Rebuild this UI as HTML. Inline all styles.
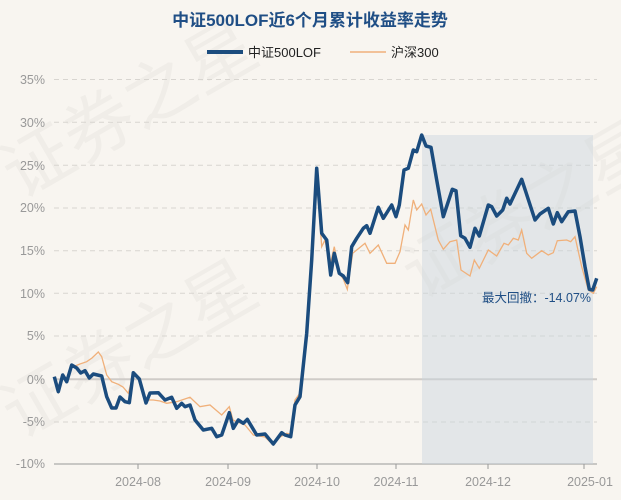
<!DOCTYPE html>
<html><head><meta charset="utf-8"><style>
body{margin:0;background:#f8f5f0;}
svg{display:block;font-family:"Liberation Sans","Noto Sans CJK SC",sans-serif;}
</style></head><body>
<svg width="621" height="500" viewBox="0 0 621 500" xmlns="http://www.w3.org/2000/svg">
<rect width="621" height="500" fill="#f8f5f0"/>
<g font-family="Noto Sans CJK SC,sans-serif" font-size="70" fill="#000" opacity="0.035">
<text x="20" y="200" transform="rotate(-30 20 200)">证券之星</text>
<text x="20" y="440" transform="rotate(-30 20 440)">证券之星</text>
<text x="420" y="300" transform="rotate(-30 420 300)">证券之星</text>
</g>
<text x="310" y="26" text-anchor="middle" font-size="17" font-weight="bold" fill="#1f4e85">中证500LOF近6个月累计收益率走势</text>
<line x1="207" y1="52" x2="243" y2="52" stroke="#1b4c7e" stroke-width="4"/>
<text x="248" y="57" font-size="13" fill="#222">中证500LOF</text>
<line x1="350" y1="52" x2="386" y2="52" stroke="#f0b07a" stroke-width="1.5"/>
<text x="391" y="57" font-size="13" fill="#222">沪深300</text>
<g stroke="#d8d5d0" stroke-dasharray="5,4" stroke-width="1">
<line x1="54" y1="79.5" x2="597" y2="79.5"/><line x1="54" y1="122.3" x2="597" y2="122.3"/>
<line x1="54" y1="165.3" x2="597" y2="165.3"/><line x1="54" y1="208" x2="597" y2="208"/>
<line x1="54" y1="250.7" x2="597" y2="250.7"/><line x1="54" y1="293.3" x2="597" y2="293.3"/>
<line x1="54" y1="336" x2="597" y2="336"/><line x1="54" y1="422" x2="597" y2="422"/>
</g>
<line x1="54" y1="379.3" x2="597" y2="379.3" stroke="#cfccc8" stroke-width="2"/>
<line x1="54" y1="464" x2="597" y2="464" stroke="#999" stroke-width="1"/>
<g font-size="12.5" fill="#999" text-anchor="end">
<text x="45" y="84">35%</text><text x="45" y="127">30%</text><text x="45" y="170">25%</text>
<text x="45" y="212">20%</text><text x="45" y="255">15%</text><text x="45" y="298">10%</text>
<text x="45" y="340">5%</text><text x="45" y="384">0%</text><text x="45" y="426">-5%</text><text x="45" y="468">-10%</text>
</g>
<g stroke="#999"><line x1="138" y1="464" x2="138" y2="469"/><line x1="228" y1="464" x2="228" y2="469"/><line x1="317" y1="464" x2="317" y2="469"/><line x1="396" y1="464" x2="396" y2="469"/><line x1="488" y1="464" x2="488" y2="469"/><line x1="584" y1="464" x2="584" y2="469"/></g>
<g font-size="12.5" fill="#999" text-anchor="middle">
<text x="138" y="486">2024-08</text><text x="228" y="486">2024-09</text><text x="317" y="486">2024-10</text>
<text x="396" y="486">2024-11</text><text x="488" y="486">2024-12</text><text x="590" y="486">2025-01</text>
</g>
<rect x="422" y="135" width="171" height="329" fill="#c9d4de" opacity="0.45"/>
<polyline fill="none" stroke="#f0b07a" stroke-width="1.3" points="54.3,376.7 58.3,391.7 62.7,375 66.7,381.7 71.7,365 73.3,366.7 80,364 86.7,361.7 92,358 98.3,352 101.7,356.7 106.7,375 111.7,381.7 118.3,384.3 123,387 128.3,393.3 133.3,374 139.3,380 146,400 153.3,400 160,401 166.7,403.3 176.7,401.7 190,397.3 200,406.7 210,405 221.7,415 229.3,406.7 233,420 236.7,421.7 245,425 253.3,435 265,437 273.3,445 280,437 286.7,433.3 290.7,434 295,400 300,393 306.7,336 311.7,265 316.7,178.3 321.7,246.7 325,240 330,265 334.3,246.7 339.3,273.3 343.3,279 347.3,289.3 352.7,253.3 358,249 365,243.3 370,253.3 378.3,245 386.7,263.3 395,263.3 400,251.7 405,225 408.3,230 413.3,200 416.7,210 421.7,204 426,215 430.7,209.3 438.3,240 443.3,249.3 450,241.7 456.7,240 461,270 470,276 474.3,260 479.3,268.3 488.3,250 496.7,256 504,243.3 508.3,245 513.3,238.3 518.3,240 521.7,230 526.7,253.3 531.7,258.3 541.7,250.7 548.3,255 553.3,252.7 557.3,240.7 566.7,240 570.7,241.7 575,236.7 581.7,266.7 588.3,290 593.3,293.3 596.7,286.7"/>
<polyline fill="none" stroke="#1b4c7e" stroke-width="3.5" stroke-linejoin="round" points="54.3,376.7 58.3,391.7 62.7,375 66.7,381.7 71.7,365 76.7,368 80.7,373 85,370.7 89.3,378 93.3,374 101.7,376 106.7,396.7 111.7,408 116,408 120,397 125,401.7 129.3,402.7 133.3,372.7 139.3,379 146,403 150,393 158.3,392.7 165,400 171.7,397.3 176.7,408.3 181.7,403.3 185,406.7 190,405 195,420 203.3,430 211.7,428.3 216.7,436.7 221.7,435 229.3,412.7 233.3,428.3 238.3,420 243.3,423.3 247.3,419.3 256.7,435 265,434 273.3,444 281.7,432.7 285,435 290.7,436.7 295,405 300,396.7 306.7,333.3 311.7,260 316.7,168.3 321.7,233.3 326.7,240 330.7,275 334.3,253.3 339.3,273.3 343.3,276 347.7,282.7 351.7,246.7 356.7,238.3 363.3,228.3 366.7,225.7 370,233.3 378.3,207.3 383.3,218.3 391.7,205 396,216.7 399.3,205 404,170 408.3,168.3 413.3,150 416.7,151.7 421.7,135 426,146 431,147.3 436.7,180 443.3,216.7 452.3,189.3 456,190.7 460.7,235.7 465,238.3 470,247.3 475,228.3 479.3,236 488.3,205 491.7,206.7 496.7,216 502.7,210 506.7,198.3 510,204 521.7,179.3 535,220 540,214 548.3,208.3 553.3,224 557.3,212.7 561.7,221.7 568.3,211.7 575,211 580,236.7 585,266.7 589.3,289.3 592.7,290 596.7,278.3"/>
<text x="591" y="302" text-anchor="end" font-size="12.5" fill="#1f4e85">最大回撤：-14.07%</text>
</svg>
</body></html>
